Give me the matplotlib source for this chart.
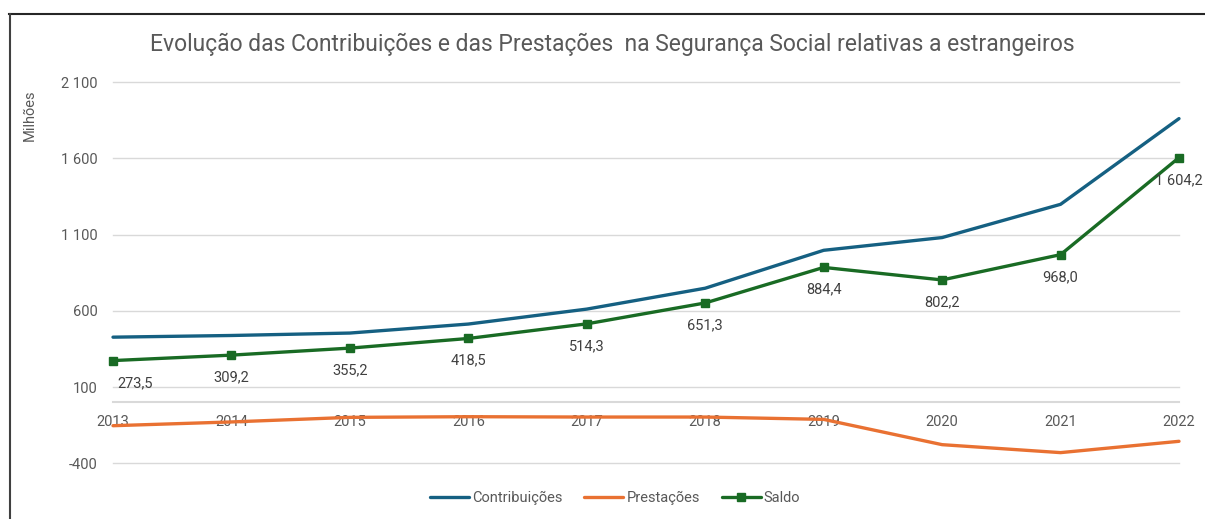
import matplotlib.pyplot as plt
from matplotlib.lines import Line2D

plt.rcParams['font.family'] = ['Roboto', 'DejaVu Sans']

anos = ['2013', '2014', '2015', '2016', '2017', '2018', '2019', '2020', '2021', '2022']
contribuicoes = [427, 438, 454, 513, 611, 748, 996.5, 1080, 1298, 1860]
prestacoes = [-153.5, -128.8, -98.8, -94.5, -96.7, -96.7, -112.1, -277.8, -330, -255.8]
saldo = [273.5, 309.2, 355.2, 418.5, 514.3, 651.3, 884.4, 802.2, 968.0, 1604.2]
ticks_y = [-400, 100, 600, 1100, 1600, 2100]

AZUL = '#156082'
LARANJA = '#E97132'
VERDE = '#196B24'
CINZA = '#595959'


def fmt_milhar(v, casas=0):
    # formato portugues: espaco nos milhares, virgula decimal
    s = f"{v:,.{casas}f}"
    return s.replace(',', ' ').replace('.', ',')


W, H = 1205, 519
fig = plt.figure(figsize=(W / 100, H / 100), dpi=100)
ax = fig.add_axes([113 / W, (H - 463.3) / H, (1179 - 113) / W, (463.3 - 82) / H])

x = list(range(len(anos)))
ax.plot(x, contribuicoes, color=AZUL, lw=2.4, solid_joinstyle='round',
        solid_capstyle='round', clip_on=False, zorder=3, label='Contribuições')
ax.plot(x, prestacoes, color=LARANJA, lw=2.4, solid_joinstyle='round',
        solid_capstyle='round', clip_on=False, zorder=3, label='Prestações')
ax.plot(x, saldo, color=VERDE, lw=2.4, marker='s', markersize=6, solid_joinstyle='round',
        solid_capstyle='round', clip_on=False, zorder=3, label='Saldo')

# rotulos do saldo, por baixo dos pontos
for i, v in enumerate(saldo):
    if i == 0:
        ax.annotate(fmt_milhar(v, 1), (i, v), xytext=(3, -16), textcoords='offset points',
                    ha='left', va='center', fontsize=10.5, color='#404040')
    else:
        ax.annotate(fmt_milhar(v, 1), (i, v), xytext=(0, -16), textcoords='offset points',
                    ha='center', va='center', fontsize=10.5, color='#404040')

ax.set_xlim(0, len(anos) - 1)
ax.set_ylim(-400, 2100)
ax.set_yticks(ticks_y)
ax.set_yticklabels([fmt_milhar(t) for t in ticks_y])
ax.set_xticks(x)
ax.set_xticklabels(anos)
ax.tick_params(axis='y', length=0, pad=11, labelsize=10.5, labelcolor=CINZA)
ax.tick_params(axis='x', length=0, pad=9, labelsize=10.5, labelcolor=CINZA)
ax.yaxis.grid(True, color='#d9d9d9', lw=1)
for gl in ax.get_ygridlines():
    gl.set_clip_on(False)
ax.set_axisbelow(True)
for s in ['top', 'right', 'left']:
    ax.spines[s].set_visible(False)
ax.spines['bottom'].set_position(('data', 0))
ax.spines['bottom'].set_color('#d9d9d9')
ax.spines['bottom'].set_linewidth(1.5)

fig.text(612 / W, 1 - 44 / H,
         'Evolução das Contribuições e das Prestações  na Segurança Social relativas a estrangeiros',
         ha='center', va='center', fontsize=16.5, color=CINZA)
fig.text(30 / W, 1 - 115 / H, 'Milhões', rotation=90, ha='center', va='center',
         fontsize=10.5, color=CINZA)

fig.legend(loc='center', bbox_to_anchor=(615 / W, 1 - 498 / H), ncol=3, frameon=False,
           handlelength=2.7, handletextpad=0.2, columnspacing=1.5, fontsize=10.5,
           labelcolor=CINZA)

# moldura do grafico (so topo e esquerda visiveis)
fig.add_artist(Line2D([9 / W, 1], [1 - 14 / H] * 2, color='#262626', lw=1.5,
                      transform=fig.transFigure))
fig.add_artist(Line2D([10 / W] * 2, [0, 1 - 14 / H], color='#404040', lw=1.5,
                      transform=fig.transFigure))

fig.savefig('out.png', dpi=100)
